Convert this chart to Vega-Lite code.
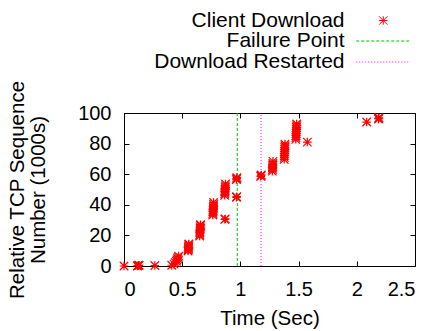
{
  "$schema": "https://vega.github.io/schema/vega-lite/v6.json",
  "width": 291,
  "height": 153,
  "autosize": "none",
  "padding": {"left": 124, "top": 113, "right": 20, "bottom": 65},
  "background": "white",
  "config": {
    "font": "Liberation Sans",
    "view": {"stroke": "black", "strokeWidth": 1},
    "axis": {
      "grid": false,
      "domain": false,
      "ticks": true,
      "tickColor": "black",
      "tickSize": -5,
      "tickWidth": 1,
      "labelFont": "Liberation Sans",
      "labelFontSize": 20,
      "labelColor": "black",
      "titleFont": "Liberation Sans",
      "titleFontSize": 20.5,
      "titleFontWeight": "normal",
      "titleColor": "black"
    }
  },
  "datasets": {
    "packets": [
      {"t": 0, "seq": 0},
      {"t": 0.115, "seq": 0}, {"t": 0.12, "seq": 0.2}, {"t": 0.125, "seq": 0.4}, {"t": 0.13, "seq": 0.5},
      {"t": 0.265, "seq": 0.3},
      {"t": 0.41, "seq": 0.5}, {"t": 0.43, "seq": 1.2}, {"t": 0.44, "seq": 2.2}, {"t": 0.45, "seq": 3.1}, {"t": 0.455, "seq": 4}, {"t": 0.46, "seq": 4.8}, {"t": 0.465, "seq": 5.6}, {"t": 0.47, "seq": 6.5},
      {"t": 0.55, "seq": 9.8}, {"t": 0.552, "seq": 10.6}, {"t": 0.553, "seq": 11.4}, {"t": 0.554, "seq": 12.2}, {"t": 0.555, "seq": 13}, {"t": 0.556, "seq": 13.8}, {"t": 0.557, "seq": 14.4},
      {"t": 0.65, "seq": 19.6}, {"t": 0.651, "seq": 20.6}, {"t": 0.652, "seq": 21.6}, {"t": 0.653, "seq": 22.6}, {"t": 0.654, "seq": 23.6}, {"t": 0.655, "seq": 24.6}, {"t": 0.656, "seq": 25.6}, {"t": 0.657, "seq": 26.6}, {"t": 0.657, "seq": 27},
      {"t": 0.763, "seq": 33.3}, {"t": 0.764, "seq": 34.3}, {"t": 0.765, "seq": 35.3}, {"t": 0.766, "seq": 36.3}, {"t": 0.767, "seq": 37.3}, {"t": 0.768, "seq": 38.3}, {"t": 0.769, "seq": 39.3}, {"t": 0.77, "seq": 40.3}, {"t": 0.77, "seq": 41.5},
      {"t": 0.866, "seq": 30.5}, {"t": 0.87, "seq": 30.8},
      {"t": 0.865, "seq": 46.2}, {"t": 0.866, "seq": 47.2}, {"t": 0.867, "seq": 48.2}, {"t": 0.868, "seq": 49.2}, {"t": 0.869, "seq": 50.2}, {"t": 0.87, "seq": 51.2}, {"t": 0.871, "seq": 52.4}, {"t": 0.872, "seq": 53.6},
      {"t": 0.966, "seq": 44.9}, {"t": 0.968, "seq": 45.3},
      {"t": 0.966, "seq": 56.5}, {"t": 0.968, "seq": 57.2}, {"t": 0.97, "seq": 57.8},
      {"t": 1.175, "seq": 58.6}, {"t": 1.177, "seq": 59}, {"t": 1.179, "seq": 59.5},
      {"t": 1.274, "seq": 62}, {"t": 1.275, "seq": 63}, {"t": 1.276, "seq": 64}, {"t": 1.277, "seq": 65}, {"t": 1.278, "seq": 66}, {"t": 1.279, "seq": 67}, {"t": 1.28, "seq": 68.4},
      {"t": 1.376, "seq": 69.7}, {"t": 1.377, "seq": 71}, {"t": 1.378, "seq": 72.3}, {"t": 1.379, "seq": 73.6}, {"t": 1.38, "seq": 74.9}, {"t": 1.381, "seq": 76.2}, {"t": 1.382, "seq": 77.5}, {"t": 1.383, "seq": 78.6}, {"t": 1.383, "seq": 79.7},
      {"t": 1.476, "seq": 82.8}, {"t": 1.477, "seq": 84}, {"t": 1.478, "seq": 85.3}, {"t": 1.479, "seq": 86.6}, {"t": 1.48, "seq": 87.9}, {"t": 1.481, "seq": 89.2}, {"t": 1.482, "seq": 90.5}, {"t": 1.483, "seq": 91.7}, {"t": 1.483, "seq": 92.8},
      {"t": 1.575, "seq": 81},
      {"t": 2.085, "seq": 94.1},
      {"t": 2.186, "seq": 96.1}, {"t": 2.188, "seq": 96.5}, {"t": 2.19, "seq": 96.9}
    ],
    "events": [
      {"t": 0.973, "event": "Failure Point"},
      {"t": 1.177, "event": "Download Restarted"}
    ]
  },
  "layer": [
    {
      "data": {"name": "events"},
      "mark": {"type": "rule", "strokeWidth": 1},
      "encoding": {
        "x": {"field": "t", "type": "quantitative", "scale": {"domain": [0, 2.5], "nice": false},
              "axis": {"orient": "top", "labels": false, "title": null, "values": [0, 0.5, 1, 1.5, 2, 2.5]}},
        "y": {"datum": 0, "type": "quantitative", "scale": {"domain": [0, 100], "nice": false},
              "axis": {"orient": "right", "labels": false, "title": null, "values": [0, 20, 40, 60, 80, 100]}},
        "y2": {"datum": 100},
        "color": {"field": "event", "type": "nominal",
                  "scale": {"domain": ["Failure Point", "Download Restarted"], "range": ["#00c000", "#ff00ff"]},
                  "legend": {"orient": "none", "legendX": 13, "legendY": -82.5, "title": null, "labelAlign": "right", "labelOffset": -49.25, "symbolOffset": 235.75, "symbolType": "M-6,0L6,0", "symbolSize": 81, "symbolStrokeWidth": 1, "rowPadding": -1, "labelFontSize": 21, "labelFont": "Liberation Sans", "labelColor": "black", "labelLimit": 400}},
        "strokeDash": {"field": "event", "type": "nominal",
                  "scale": {"domain": ["Failure Point", "Download Restarted"], "range": [[3, 2], [1, 2]]},
                  "legend": {"orient": "none", "legendX": 13, "legendY": -82.5, "title": null, "labelAlign": "right", "labelOffset": -49.25, "symbolOffset": 235.75, "symbolType": "M-6,0L6,0", "symbolSize": 81, "symbolStrokeWidth": 1, "rowPadding": -1, "labelFontSize": 21, "labelFont": "Liberation Sans", "labelColor": "black", "labelLimit": 400}}
      }
    },
    {
      "data": {"name": "packets"},
      "mark": {"type": "point", "filled": false, "stroke": "red", "strokeWidth": 1.2, "size": 72, "opacity": 1},
      "encoding": {
        "x": {"field": "t", "type": "quantitative", "scale": {"domain": [0, 2.5], "nice": false},
              "axis": {"orient": "bottom", "values": [0, 0.5, 1, 1.5, 2, 2.5], "format": "~g", "title": "Time (Sec)", "labelPadding": 18, "titlePadding": 9}},
        "y": {"field": "seq", "type": "quantitative", "scale": {"domain": [0, 100], "nice": false},
              "axis": {"orient": "left", "values": [0, 20, 40, 60, 80, 100], "title": ["Relative TCP Sequence", "Number (1000s)"], "titleLineHeight": 21, "labelPadding": 18, "titlePadding": 29}},
        "shape": {"datum": "Client Download", "type": "nominal",
                  "scale": {"range": ["M-1,0L1,0M0,-1L0,1M-1,-1L1,1M-1,1L1,-1"]},
                  "legend": {"orient": "none", "legendX": 53.75, "legendY": -103, "title": null, "labelAlign": "right", "labelOffset": -49.25, "symbolOffset": 195, "symbolSize": 70, "symbolStrokeWidth": 1, "symbolStrokeColor": "red", "symbolFillColor": "transparent", "labelFontSize": 21, "labelFont": "Liberation Sans", "labelColor": "black", "labelLimit": 400}}
      }
    }
  ],
  "resolve": {"axis": {"x": "independent", "y": "independent"}}
}
